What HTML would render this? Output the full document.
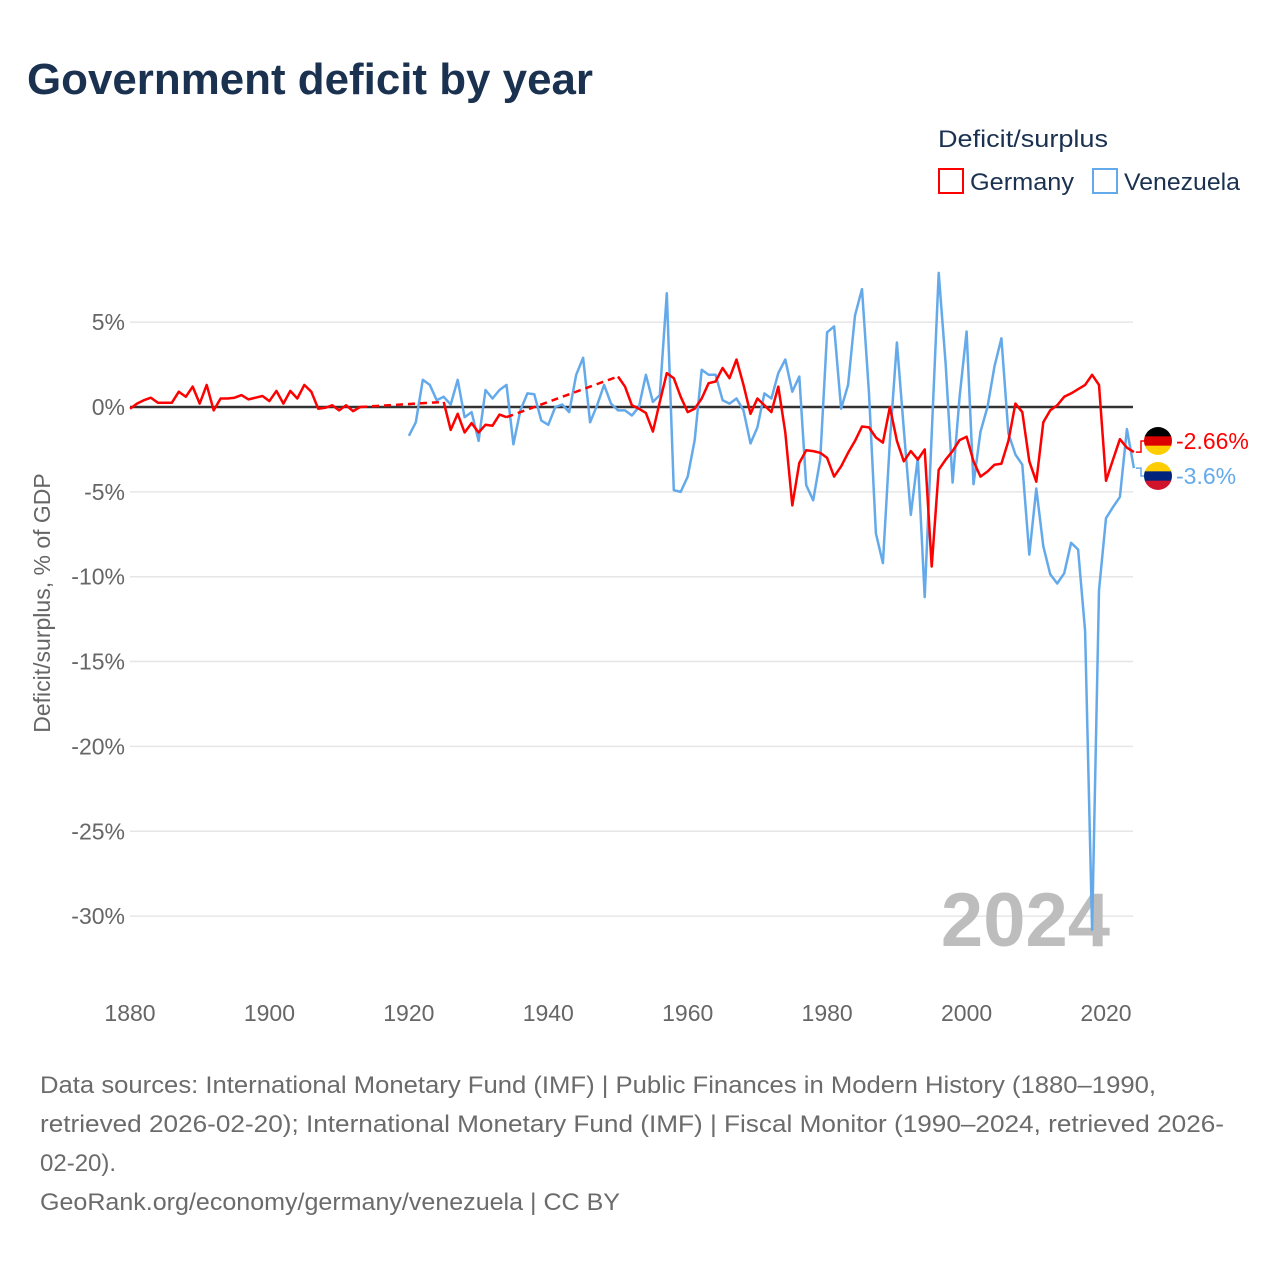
<!DOCTYPE html>
<html><head><meta charset="utf-8"><style>
body{margin:0;background:#fff;}
svg text{font-family:"Liberation Sans",sans-serif;}
</style></head><body>
<svg id="chart" width="1280" height="1280" viewBox="0 0 1280 1280" xmlns="http://www.w3.org/2000/svg">
<text x="27" y="94" font-size="44" font-weight="bold" fill="#1a3150" textLength="566" lengthAdjust="spacingAndGlyphs">Government deficit by year</text>
<g>
<text x="938" y="147" font-size="24" fill="#1a3150" textLength="170" lengthAdjust="spacingAndGlyphs">Deficit/surplus</text>
<rect x="939" y="169" width="24" height="24" fill="#fff" stroke="#f00" stroke-width="2"/>
<text x="970" y="190" font-size="24" fill="#1a3150" textLength="104" lengthAdjust="spacingAndGlyphs">Germany</text>
<rect x="1093" y="169" width="24" height="24" fill="#fff" stroke="#64aaea" stroke-width="2"/>
<text x="1124" y="190" font-size="24" fill="#1a3150" textLength="116" lengthAdjust="spacingAndGlyphs">Venezuela</text>
</g>
<g id="grid"></g>
<g id="yticks"></g>
<g id="xticks"></g>
<text transform="translate(50,603) rotate(-90)" text-anchor="middle" font-size="23" fill="#666">Deficit/surplus, % of GDP</text>
<text x="1110" y="946" text-anchor="end" font-size="76" font-weight="bold" fill="#bdbdbd">2024</text>
<g id="series"></g>
<g id="endlabels"></g>
<g font-size="24" fill="#6b6b6b">
<text x="40" y="1093" textLength="1116" lengthAdjust="spacingAndGlyphs">Data sources: International Monetary Fund (IMF) | Public Finances in Modern History (1880–1990,</text>
<text x="40" y="1132" textLength="1184" lengthAdjust="spacingAndGlyphs">retrieved 2026-02-20); International Monetary Fund (IMF) | Fiscal Monitor (1990–2024, retrieved 2026-</text>
<text x="40" y="1171">02-20).</text>
<text x="40" y="1210" textLength="580" lengthAdjust="spacingAndGlyphs">GeoRank.org/economy/germany/venezuela | CC BY</text>
</g>
</svg>
<script>
const yTicks=[5,0,-5,-10,-15,-20,-25,-30];
const xTicks=[1880,1900,1920,1940,1960,1980,2000,2020];
const germanyStart=1880;
const germanyValues=[-0.1,0.2,0.4,0.55,0.25,0.25,0.25,0.9,0.6,1.2,0.2,1.3,-0.2,0.5,0.5,0.55,0.7,0.45,0.55,0.65,0.35,0.95,0.2,0.95,0.5,1.3,0.9,-0.1,-0.05,0.1,-0.2,0.1,-0.25,0.0,
null,null,null,null,null,null,null,null,null,null,null,
0.3,-1.35,-0.4,-1.5,-0.95,-1.5,-1.05,-1.1,-0.45,-0.6,
null,null,null,null,null,null,null,null,null,null,null,null,null,null,null,
1.8,1.2,0.1,-0.1,-0.35,-1.45,0.3,2.0,1.7,0.6,-0.3,-0.1,0.5,1.4,1.5,2.3,1.7,2.8,1.3,-0.4,0.5,0.1,-0.3,1.2,-1.5,-5.8,-3.3,-2.55,-2.6,-2.7,-3.0,-4.1,-3.5,-2.7,-2.0,-1.15,-1.2,-1.8,-2.1,0.0,-2.0,-3.2,-2.6,-3.1,-2.5,-9.4,-3.7,-3.1,-2.6,-1.95,-1.75,-3.2,-4.1,-3.8,-3.4,-3.35,-2.0,0.2,-0.3,-3.2,-4.4,-0.9,-0.2,0.1,0.6,0.8,1.05,1.3,1.9,1.3,-4.35,-3.1,-1.9,-2.4,-2.66];
const venezuelaStart=1920;
const venezuelaValues=[-1.7,-0.9,1.6,1.3,0.4,0.6,0.15,1.6,-0.6,-0.3,-2.0,1.0,0.5,1.0,1.3,-2.2,-0.2,0.8,0.75,-0.8,-1.05,0.0,0.15,-0.3,1.9,2.9,-0.9,0.1,1.3,0.2,-0.2,-0.2,-0.5,0.0,1.9,0.3,0.7,6.7,-4.9,-5.0,-4.1,-1.95,2.2,1.9,1.9,0.4,0.2,0.5,-0.2,-2.15,-1.2,0.8,0.5,2.0,2.8,0.9,1.8,-4.6,-5.5,-3.1,4.4,4.75,-0.1,1.3,5.4,6.95,0.8,-7.45,-9.2,-2.0,3.8,-1.3,-6.35,-3.0,-11.2,-1.6,7.9,2.5,-4.45,0.6,4.45,-4.55,-1.45,0.0,2.4,4.05,-1.55,-2.8,-3.4,-8.7,-4.8,-8.2,-9.85,-10.4,-9.8,-8.0,-8.4,-13.2,-30.8,-10.8,-6.55,-5.9,-5.3,-1.3,-3.6];
const labelTexts=["-2.66%","-3.6%"];

const NS="http://www.w3.org/2000/svg";
const X0=130,X1=1133;
function xs(yr){return 130+(yr-1880)*(976/140);}
function ys(v){return 407-v*16.97;}
function mk(tag,attrs,parent){const e=document.createElementNS(NS,tag);for(const k in attrs)e.setAttribute(k,attrs[k]);parent.appendChild(e);return e;}
const grid=document.getElementById('grid'),yt=document.getElementById('yticks'),xt=document.getElementById('xticks'),ser=document.getElementById('series'),el=document.getElementById('endlabels');
yTicks.forEach(v=>{
  if(v!==0){const g=mk('line',{x1:X0,x2:X1,y1:ys(v),y2:ys(v),stroke:'#e6e6e6','stroke-width':1.5},grid);
  
  }
  const t=mk('text',{x:125,y:ys(v)+8,'text-anchor':'end','font-size':23,fill:'#666'},yt);
  t.textContent=v+'%';
  
  
});
xTicks.forEach(yr=>{
  const t=mk('text',{x:xs(yr),y:1021,'text-anchor':'middle','font-size':23,fill:'#666'},xt);
  t.textContent=yr;
  
  
});
function drawSeries(start,vals,color,name){
  let solid=[],cur=[],lastPt=null,pendingGap=false;
  const segs=[],dashes=[];
  vals.forEach((v,i)=>{
    if(v===null){if(cur.length){segs.push(cur);cur=[];}pendingGap=true;return;}
    const p=[xs(start+i),ys(v)];
    if(pendingGap&&lastPt){dashes.push([lastPt,p]);}
    pendingGap=false;cur.push(p);lastPt=p;
  });
  if(cur.length)segs.push(cur);
  segs.forEach(s=>{
    const d=s.map((p,i)=>(i?'L':'M')+p[0].toFixed(1)+','+p[1].toFixed(1)).join('');
    const path=mk('path',{d:d,fill:'none',stroke:color,'stroke-width':2.5,'stroke-linejoin':'round'},ser);
    
    
  });
  dashes.forEach(pr=>{
    const l=mk('line',{x1:pr[0][0],y1:pr[0][1],x2:pr[1][0],y2:pr[1][1],stroke:color,'stroke-width':2.5,'stroke-dasharray':'7,5'},ser);
    
    
  });
  return lastPt;
}
mk('line',{x1:X0,x2:X1,y1:ys(0),y2:ys(0),stroke:'#333','stroke-width':2.5},grid);
const vEnd=drawSeries(venezuelaStart,venezuelaValues,'#64aaea','venezuela');
const gEnd=drawSeries(germanyStart,germanyValues,'#ff0000','germany');
const zero=grid.lastChild;


// end labels
function endLabel(pt,ly,color,txt,flag,name){
  const c=mk('path',{d:`M${pt[0]+2},${pt[1]}H${1141}V${ly}H${1146}`,fill:'none',stroke:color,'stroke-width':1.5},el);
  
  
  const g=mk('g',{},el);
  
  
  const cid='clip'+name;
  const cp=mk('clipPath',{id:cid},g);mk('circle',{cx:1158,cy:ly,r:14},cp);
  const gg=mk('g',{'clip-path':`url(#${cid})`},g);
  flag.forEach((col,i)=>mk('rect',{x:1144,y:ly-14+i*28/3,width:28,height:28/3+0.5,fill:col},gg));
  const t=mk('text',{x:1176,y:ly+8,'font-size':23,fill:color},el);
  t.textContent=txt;
  
  
}
endLabel(gEnd,441,'#ff0000',labelTexts[0],['#000','#dd0000','#ffce00'],'germany');
endLabel(vEnd,476,'#64aaea',labelTexts[1],['#ffcc00','#00247d','#cf142b'],'venezuela');
</script>
</body></html>
